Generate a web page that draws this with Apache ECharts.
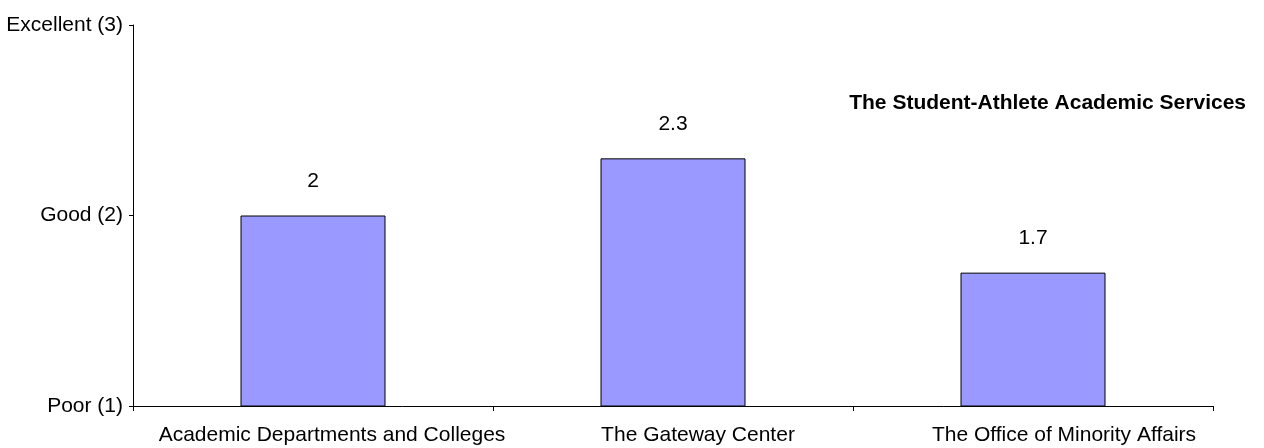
<!DOCTYPE html>
<html>
<head>
<meta charset="utf-8">
<script src="https://cdn.jsdelivr.net/npm/echarts@6/dist/echarts.min.js"></script>
<style>
  html, body { margin: 0; padding: 0; background: #fff; }
  #chart { width: 1264px; height: 448px; }
</style>
</head>
<body>
<div id="chart"></div>
<script>
// Ratings of student services (1 = Poor, 2 = Good, 3 = Excellent)
const chartTitle = 'The Student-Athlete Academic Services';
const categories = ['Academic Departments and Colleges', 'The Gateway Center', 'The Office of Minority Affairs'];
const ratings = [2, 2.3, 1.7];
const ratingLabels = { 1: 'Poor (1)', 2: 'Good (2)', 3: 'Excellent (3)' };

const font = 'Liberation Sans, Arial, sans-serif';
const fontSize = 21;
// category labels sit slightly right of their slot centre; left padding nudges each one
const labelNudge = [38, 50, 62];

const chart = echarts.init(document.getElementById('chart'), null, { renderer: 'canvas' });

const richLabels = {};
labelNudge.forEach((p, i) => {
  richLabels['c' + i] = { fontFamily: font, fontSize: fontSize, color: '#000', padding: [0, 0, 0, p] };
});

chart.setOption({
  animation: false,
  backgroundColor: '#ffffff',
  title: {
    text: chartTitle,
    right: 18,
    top: 93,
    padding: 0,
    textStyle: { fontFamily: font, fontSize: fontSize, fontWeight: 'bold', color: '#000' }
  },
  grid: { left: 133, right: 51, top: 25, bottom: 42, containLabel: false },
  xAxis: {
    type: 'category',
    data: categories,
    boundaryGap: true,
    axisLine: { show: true, lineStyle: { color: '#000', width: 1 } },
    axisTick: { show: true, alignWithLabel: false, length: 5, lineStyle: { color: '#000' } },
    axisLabel: {
      fontFamily: font, fontSize: fontSize, color: '#000', margin: 19, interval: 0,
      formatter: (v, i) => '{c' + i + '|' + v + '}',
      rich: richLabels
    },
    splitLine: { show: false }
  },
  yAxis: {
    type: 'value',
    min: 1,
    max: 3,
    interval: 1,
    axisLine: { show: true, lineStyle: { color: '#000', width: 1 } },
    axisTick: { show: true, length: 4, lineStyle: { color: '#000' } },
    axisLabel: {
      fontFamily: font, fontSize: fontSize, color: '#000', margin: 10,
      formatter: v => ratingLabels[v] || ''
    },
    splitLine: { show: false }
  },
  series: [{
    type: 'bar',
    data: ratings,
    barWidth: 145,
    itemStyle: { color: '#9999FF', borderColor: '#000', borderWidth: 1 },
    label: {
      show: true,
      position: 'top',
      distance: 24,
      fontFamily: font,
      fontSize: fontSize,
      color: '#000',
      formatter: p => String(p.value)
    }
  }]
});
</script>
</body>
</html>
